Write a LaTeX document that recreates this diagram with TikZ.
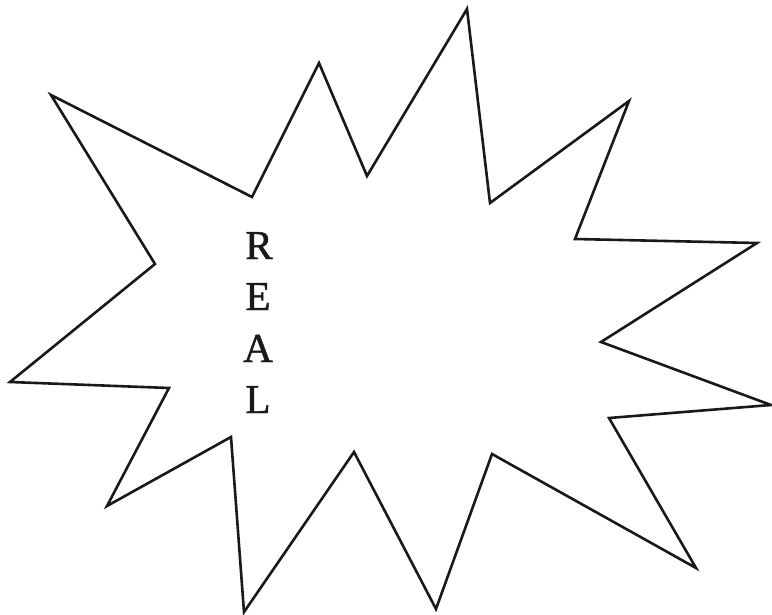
\documentclass[tikz,border=0pt]{standalone}
\usepackage{fontspec}
\setmainfont{Liberation Serif}
\newfontfamily\lettersfont[FakeBold=1.2]{Liberation Serif}
\begin{document}
\begin{tikzpicture}[x=1pt,y=-1pt,
  burst/.style={draw=black!90,line width=2.6pt,line join=miter},
  letter/.style={anchor=base,inner sep=0pt,font=\lettersfont\fontsize{41}{41}\selectfont,text=black!90}]
\useasboundingbox (0,0) rectangle (772,615);
\draw[burst] (51,95) -- (252,197) -- (319,63) -- (367,176) -- (467,9) -- (490,203)
  -- (629,101) -- (575,239) -- (757,243) -- (601,342) -- (771,405) -- (609,418)
  -- (696,568) -- (492,454) -- (436,609) -- (354,452) -- (244,612) -- (231,437)
  -- (107,506) -- (169,388) -- (10,382) -- (155,264) -- cycle;
\node[letter] (r) at (259,259) {R};
\node[letter] (e) at (258,310) {E};
\node[letter] (a) at (258,362) {A};
\node[letter] (l) at (258,413) {L};
\end{tikzpicture}
\end{document}
